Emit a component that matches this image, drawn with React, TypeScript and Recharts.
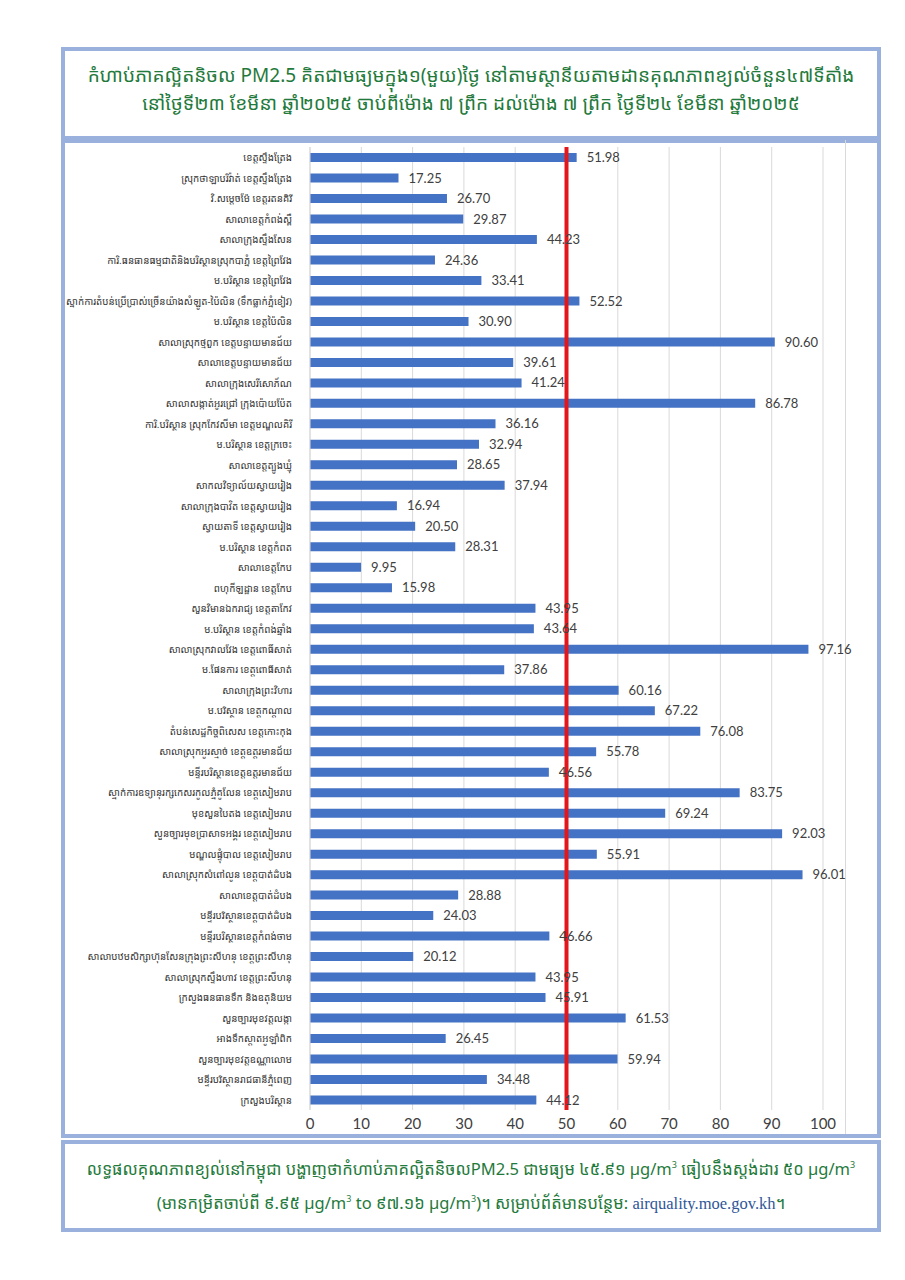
import { BarChart, Bar, XAxis, YAxis, CartesianGrid, ReferenceLine, LabelList } from "recharts";

const stations = [
  "ខេត្តស្ទឹងត្រែង",
  "ស្រុកថាឡាបរិវ៉ាត់ ខេត្តស្ទឹងត្រែង",
  "វិ.សម្តេចម៉ែ ខេត្តរតនគិរី",
  "សាលាខេត្តកំពង់ស្ពឺ",
  "សាលាក្រុងស្ទឹងសែន",
  "ការិ.ធនធានធម្មជាតិនិងបរិស្ថានស្រុកបាភ្នំ ខេត្តព្រៃវែង",
  "ម.បរិស្ថាន ខេត្តព្រៃវែង",
  "ស្នាក់ការតំបន់ប្រើប្រាស់ច្រើនយ៉ាងសំឡូត-ប៉ៃលិន (ទឹកធ្លាក់ភ្នំខៀវ)",
  "ម.បរិស្ថាន ខេត្តប៉ៃលិន",
  "សាលាស្រុកថ្មពួក ខេត្តបន្ទាយមានជ័យ",
  "សាលាខេត្តបន្ទាយមានជ័យ",
  "សាលាក្រុងសេរីសោភ័ណ",
  "សាលាសង្កាត់អូរជ្រៅ ក្រុងប៉ោយប៉ែត",
  "ការិ.បរិស្ថាន ស្រុកកែវសីមា ខេត្តមណ្ឌលគិរី",
  "ម.បរិស្ថាន ខេត្តក្រចេះ",
  "សាលាខេត្តត្បូងឃ្មុំ",
  "សាកលវិទ្យាល័យស្វាយរៀង",
  "សាលាក្រុងបាវិត ខេត្តស្វាយរៀង",
  "ស្វាយតាទី ខេត្តស្វាយរៀង",
  "ម.បរិស្ថាន ខេត្តកំពត",
  "សាលាខេត្តកែប",
  "ពហុកីឡដ្ឋាន ខេត្តកែប",
  "សួនវិមានឯករាជ្យ ខេត្តតាកែវ",
  "ម.បរិស្ថាន ខេត្តកំពង់ឆ្នាំង",
  "សាលាស្រុកវាលវែង ខេត្តពោធិ៍សាត់",
  "ម.ផែនការ ខេត្តពោធិ៍សាត់",
  "សាលាក្រុងព្រះវិហារ",
  "ម.បរិស្ថាន ខេត្តកណ្តាល",
  "តំបន់សេដ្ឋកិច្ចពិសេស ខេត្តកោះកុង",
  "សាលាស្រុកអូរស្មាច់ ខេត្តឧត្តរមានជ័យ",
  "មន្ទីរបរិស្ថានខេត្តឧត្តរមានជ័យ",
  "ស្នាក់ការឧទ្យានុរក្សកេសរកូលភ្នំគូលែន ខេត្តសៀមរាប",
  "មុខសួនបៃតង ខេត្តសៀមរាប",
  "សួនច្បារមុខប្រាសាទអង្គរ ខេត្តសៀមរាប",
  "មណ្ឌលផ្ទុំបាល ខេត្តសៀមរាប",
  "សាលាស្រុកសំពៅលូន ខេត្តបាត់ដំបង",
  "សាលាខេត្តបាត់ដំបង",
  "មន្ទីរបរិស្ថានខេត្តបាត់ដំបង",
  "មន្ទីរបរិស្ថានខេត្តកំពង់ចាម",
  "សាលាបឋមសិក្សាហ៊ុនសែនក្រុងព្រះសីហនុ ខេត្តព្រះសីហនុ",
  "សាលាស្រុកស្ទឹងហាវ ខេត្តព្រះសីហនុ",
  "ក្រសួងធនធានទឹក និងឧតុនិយម",
  "សួនច្បារមុខវត្តលង្កា",
  "អាងទឹកស្តាតអូឡាំពិក",
  "សួនច្បារមុខវត្តឧណ្ណាលោម",
  "មន្ទីរបរិស្ថានរាជធានីភ្នំពេញ",
  "ក្រសួងបរិស្ថាន",
];

const pm25 = [
  51.98, 17.25, 26.7, 29.87, 44.23, 24.36, 33.41, 52.52, 30.9, 90.6,
  39.61, 41.24, 86.78, 36.16, 32.94, 28.65, 37.94, 16.94, 20.5, 28.31,
  9.95, 15.98, 43.95, 43.64, 97.16, 37.86, 60.16, 67.22, 76.08, 55.78,
  46.56, 83.75, 69.24, 92.03, 55.91, 96.01, 28.88, 24.03, 46.66, 20.12,
  43.95, 45.91, 61.53, 26.45, 59.94, 34.48, 44.12,
];

const xTicks = [0, 10, 20, 30, 40, 50, 60, 70, 80, 90, 100];
const standard = 50;

const titleLines = [
  "កំហាប់ភាគល្អិតនិចល PM2.5 គិតជាមធ្យមក្នុង១(មួយ)ថ្ងៃ នៅតាមស្ថានីយតាមដានគុណភាពខ្យល់ចំនួន៤៧ទីតាំង",
  "នៅថ្ងៃទី២៣ ខែមីនា ឆ្នាំ២០២៥ ចាប់ពីម៉ោង ៧ ព្រឹក ដល់ម៉ោង ៧ ព្រឹក ថ្ងៃទី២៤ ខែមីនា ឆ្នាំ២០២៥",
];

const data = stations.map((name, i) => ({ name, value: pm25[i] }));

const khmerFont = "'Khmer OS', 'Noto Sans Khmer', 'Noto Sans', sans-serif";
const boxBorder = "4px solid #9bb1dd";
const green = "#1f7a3c";

// single-line station name, right aligned next to the axis
const StationTick = ({ x, y, payload }: any) => (
  <text x={x - 10} y={y} dy={4} textAnchor="end" fontSize={9.8} fill="#333" fontFamily={khmerFont}>
    {payload.value}
  </text>
);

const sup = <sup style={{ fontSize: 9 }}>3</sup>;

export default function App() {
  return (
    <div style={{ position: "absolute", left: 0, top: 0, width: 905, height: 1280, background: "#fff" }}>
      {/* title box */}
      <div
        style={{
          position: "absolute", left: 61, top: 47, width: 812, height: 78,
          border: boxBorder, color: green, fontFamily: khmerFont, fontSize: 19,
          textAlign: "center", lineHeight: "28px", paddingTop: 10,
        }}
      >
        {titleLines.map((t) => (
          <div key={t}>{t}</div>
        ))}
      </div>

      {/* chart box */}
      <div style={{ position: "absolute", left: 61, top: 136, width: 812, height: 994, border: boxBorder }} />
      <div style={{ position: "absolute", left: 845, top: 140, width: 1, height: 994, background: "#d9d9d9" }} />

      <div style={{ position: "absolute", left: 66, top: 140 }}>
        <BarChart
          width={810}
          height={996}
          data={data}
          layout="vertical"
          margin={{ top: 7, right: 53, bottom: 0, left: 0 }}
          barSize={9}
          style={{ overflow: "visible" }}
        >
          <CartesianGrid horizontal={false} stroke="#d9d9d9" />
          <XAxis
            type="number"
            domain={[0, 100]}
            ticks={xTicks}
            axisLine={false}
            tickLine={false}
            height={26}
            tick={{ fontSize: 15, fill: "#404040", fontFamily: "Lato, sans-serif" }}
          />
          <YAxis
            type="category"
            dataKey="name"
            width={244}
            interval={0}
            axisLine={{ stroke: "#d9d9d9" }}
            tickLine={false}
            tick={StationTick}
          />
          <Bar dataKey="value" fill="#4472c4" isAnimationActive={false}>
            <LabelList
              dataKey="value"
              position="right"
              offset={10}
              formatter={(v: number) => v.toFixed(2)}
              style={{ fontSize: 13, fill: "#404040", fontFamily: "Lato, sans-serif" }}
            />
          </Bar>
          <ReferenceLine x={standard} stroke="#e3161b" strokeWidth={4} />
        </BarChart>
      </div>

      {/* footer box */}
      <div
        style={{
          position: "absolute", left: 61, top: 1140, width: 812, height: 78,
          border: boxBorder, color: green, fontFamily: khmerFont, fontSize: 16.5,
          textAlign: "center", lineHeight: "30px", paddingTop: 6,
        }}
      >
        <div>
          លទ្ធផលគុណភាពខ្យល់នៅកម្ពុជា បង្ហាញថាកំហាប់ភាគល្អិតនិចលPM2.5 ជាមធ្យម ៤៥.៩១ µg/m{sup} ធៀបនឹងស្តង់ដារ ៥០ µg/m{sup}
        </div>
        <div>
          (មានកម្រិតចាប់ពី ៩.៩៥ µg/m{sup} to ៩៧.១៦ µg/m{sup})។ សម្រាប់ព័ត៌មានបន្ថែម:{" "}
          <span style={{ color: "#2f5597", fontFamily: "'Liberation Serif', serif" }}>airquality.moe.gov.kh</span>។
        </div>
      </div>
    </div>
  );
}
